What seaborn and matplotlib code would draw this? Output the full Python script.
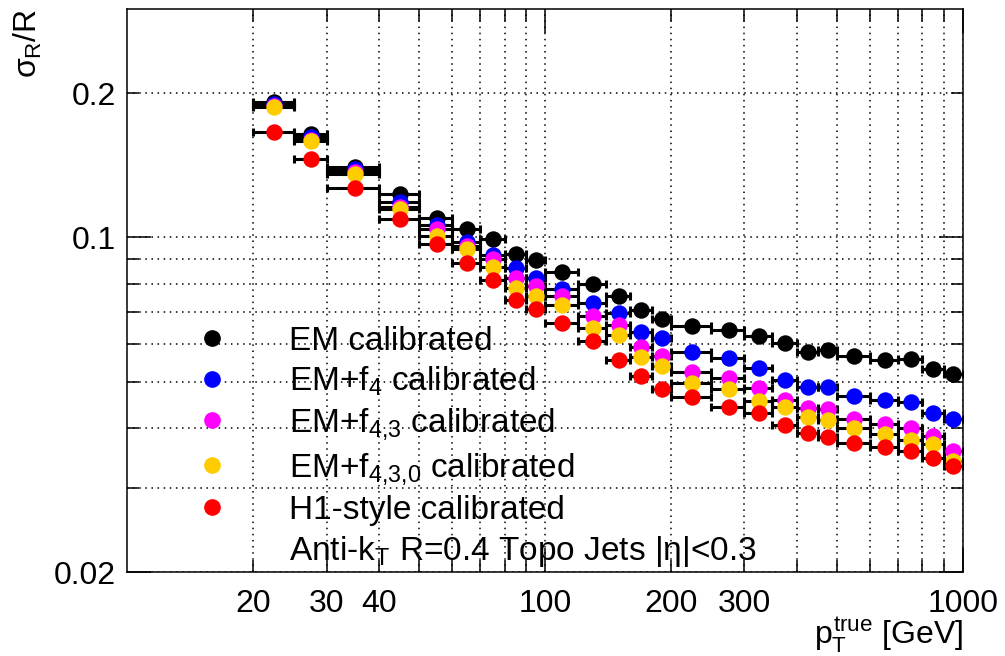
import numpy as np
import pandas as pd
import matplotlib
matplotlib.use("Agg")
import matplotlib.pyplot as plt
import matplotlib.ticker as mticker
from matplotlib.lines import Line2D
import seaborn as sns

# ---------------- data ----------------
bin_lo = [20, 25, 30, 40, 50, 60, 70, 80, 90, 100, 120, 140, 160, 180, 200,
          250, 300, 350, 400, 450, 500, 600, 700, 800, 900]
bin_hi = [25, 30, 40, 50, 60, 70, 80, 90, 100, 120, 140, 160, 180, 200, 250,
          300, 350, 400, 450, 500, 600, 700, 800, 900, 1000]

em = [0.192, 0.164, 0.1405, 0.123, 0.110, 0.1039, 0.0994, 0.0925, 0.0897, 0.0846,
      0.0801, 0.0756, 0.0707, 0.0676, 0.0653, 0.0642, 0.0624, 0.0603, 0.0576, 0.0583,
      0.0567, 0.0554, 0.0558, 0.0532, 0.0519]
em_f4 = [0.190, 0.162, 0.139, 0.1185, 0.1061, 0.0978, 0.0921, 0.0864, 0.0824, 0.0782,
         0.0730, 0.0694, 0.0634, 0.0617, 0.0576, 0.0559, 0.0534, 0.0505, 0.0488, 0.0488,
         0.0466, 0.0459, 0.0453, 0.0430, 0.0418]
em_f43 = [0.188, 0.160, 0.137, 0.116, 0.1039, 0.0959, 0.0900, 0.0824, 0.0791, 0.0754,
          0.0685, 0.0658, 0.0591, 0.0565, 0.0523, 0.0509, 0.0485, 0.0459, 0.0441, 0.0439,
          0.0418, 0.0409, 0.0400, 0.0386, 0.0358]
em_f430 = [0.187, 0.159, 0.1354, 0.1148, 0.1006, 0.0944, 0.0869, 0.0785, 0.0756, 0.0724,
           0.0648, 0.0627, 0.0563, 0.0538, 0.0497, 0.0483, 0.0455, 0.0443, 0.0423, 0.0415,
           0.0401, 0.0389, 0.0377, 0.0371, 0.0341]
h1 = [0.166, 0.1456, 0.1268, 0.109, 0.0967, 0.0886, 0.0814, 0.0742, 0.0710, 0.0663,
      0.0607, 0.0554, 0.0513, 0.0483, 0.0465, 0.0443, 0.0430, 0.0407, 0.0391, 0.0384,
      0.0373, 0.0366, 0.0358, 0.0347, 0.0333]

series_names = ["EM calibrated", "EM+f$_{4}$ calibrated", "EM+f$_{4{,}3}$ calibrated",
                "EM+f$_{4{,}3{,}0}$ calibrated", "H1-style calibrated"]
series_values = [em, em_f4, em_f43, em_f430, h1]
series_colors = ["#000000", "#0000ff", "#ff00ff", "#ffcc00", "#ff0000"]
note_text = "Anti-k$_{T}$ R=0.4 Topo Jets |η|<0.3"

y_major = [0.02, 0.1]
y_minor = [0.03, 0.04, 0.05, 0.06, 0.07, 0.08, 0.09, 0.2]
y_labels = {0.02: "0.02", 0.1: "0.1", 0.2: "0.2"}
x_major = [100, 1000]
x_minor = [20, 30, 40, 50, 60, 70, 80, 90, 200, 300, 400, 500, 600, 700, 800, 900]
x_labels = {20: "20", 30: "30", 40: "40", 100: "100", 200: "200", 300: "300", 1000: "1000"}

# ---------------- style ----------------
sns.set_style("ticks")
plt.rcParams["font.family"] = ["Liberation Sans", "DejaVu Sans"]
plt.rcParams["mathtext.fontset"] = "custom"
plt.rcParams["mathtext.rm"] = "Liberation Sans"
plt.rcParams["mathtext.it"] = "Liberation Sans"
plt.rcParams["mathtext.bf"] = "Liberation Sans:bold"
plt.rcParams["mathtext.sf"] = "Liberation Sans"
plt.rcParams["text.color"] = "black"
plt.rcParams["axes.labelcolor"] = "black"
plt.rcParams["xtick.color"] = "black"
plt.rcParams["ytick.color"] = "black"

FS = 23
FS_LEG = 24

fig = plt.figure(figsize=(10.05, 6.56), dpi=100)
ax = fig.add_axes([0.1267, 0.1274, 0.9580 - 0.1267, 0.9867 - 0.1274])

lo = np.array(bin_lo, dtype=float)
hi = np.array(bin_hi, dtype=float)
xc = (lo + hi) / 2.0
xerr = np.vstack([xc - lo, hi - xc])

rows = []
for name, vals in zip(series_names, series_values):
    for x, v in zip(xc, vals):
        rows.append({"pt": x, "res": v, "series": name})
df = pd.DataFrame(rows)

for i, (name, col) in enumerate(zip(series_names, series_colors)):
    sub = df[df["series"] == name]
    ax.errorbar(sub["pt"], sub["res"], xerr=xerr, fmt="none", ecolor="black",
                elinewidth=2.2, capsize=3, capthick=2.2, zorder=3 + 2 * i)
    sns.scatterplot(data=sub, x="pt", y="res", color=col, s=140, linewidth=0,
                    edgecolor=col, ax=ax, zorder=4 + 2 * i, legend=False)

ax.set_xscale("log")
ax.set_yscale("log")
ax.set_xlim(10, 1000)
ax.set_ylim(0.02, 0.3)

ax.xaxis.set_major_locator(mticker.FixedLocator(x_major))
ax.xaxis.set_minor_locator(mticker.FixedLocator(x_minor))
ax.yaxis.set_major_locator(mticker.FixedLocator(y_major))
ax.yaxis.set_minor_locator(mticker.FixedLocator(y_minor))

def fmt_x(v, pos):
    return x_labels.get(int(round(v)), "")

def fmt_y(v, pos):
    for k, s in y_labels.items():
        if abs(v - k) < 1e-9:
            return s
    return ""

ax.xaxis.set_major_formatter(mticker.FuncFormatter(fmt_x))
ax.xaxis.set_minor_formatter(mticker.FuncFormatter(fmt_x))
ax.yaxis.set_major_formatter(mticker.FuncFormatter(fmt_y))
ax.yaxis.set_minor_formatter(mticker.FuncFormatter(fmt_y))

ax.tick_params(which="both", direction="in", top=True, right=True,
               labelsize=FS, colors="black", width=1.1)
ax.tick_params(which="major", length=17)
ax.tick_params(which="minor", length=8.5)
ax.tick_params(axis="x", which="both", pad=12)
ax.tick_params(axis="y", which="both", pad=8)

ax.grid(which="both", linestyle=(0, (1, 3)), color="black", linewidth=1.1)
for sp in ax.spines.values():
    sp.set_color("black")
    sp.set_linewidth(1.1)

ax.set_xlabel(r"$p_{T}^{true}$ [GeV]", fontsize=FS, loc="right", color="black")
ax.xaxis.set_label_coords(1.0, -0.078)
ax.set_ylabel(r"$\sigma_{R}$/R", fontsize=FS, loc="top", color="black")
ax.yaxis.set_label_coords(-0.100, 1.0)

handles = [Line2D([], [], linestyle="none", marker="o", markersize=11,
                  markerfacecolor=c, markeredgecolor=c) for c in series_colors]
handles.append(Line2D([], [], linestyle="none", marker=None))
labels = series_names + [note_text]
leg = ax.legend(handles, labels, loc="upper left", bbox_to_anchor=(0.064, 0.438),
                frameon=False, fontsize=FS_LEG, handlelength=1.9, handletextpad=1.35,
                borderpad=0, borderaxespad=0, labelspacing=0.25, labelcolor="black")
leg.set_zorder(20)

fig.savefig("out.png", dpi=100)
